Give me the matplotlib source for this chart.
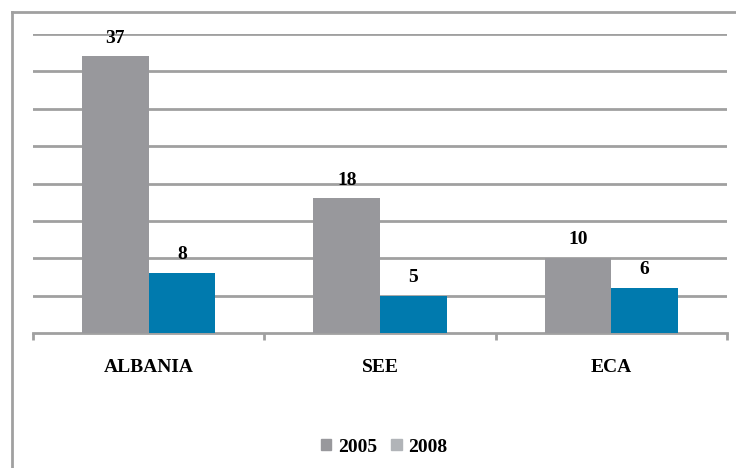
import matplotlib
matplotlib.use("Agg")
import matplotlib.pyplot as plt
from matplotlib.patches import Patch
from matplotlib.lines import Line2D

categories = ["ALBANIA", "SEE", "ECA"]
series_names = ["2005", "2008"]
values_2005 = [37, 18, 10]
values_2008 = [8, 5, 6]

c2005 = "#98989c"
c2008 = "#007aae"
c2008_legend = "#b1b4b8"
grid_c = "#a0a0a0"

plt.rcParams['font.family'] = ['Liberation Serif', 'DejaVu Serif']

fig = plt.figure(figsize=(7.36, 4.68), dpi=100)
ax = fig.add_axes([33/736, 1-333/468, (727-33)/736, (333-34)/468])

x = list(range(len(categories)))
w = 0.288
b1 = ax.bar([i - w/2 for i in x], values_2005, width=w, color=c2005, zorder=3)
b2 = ax.bar([i + w/2 for i in x], values_2008, width=w, color=c2008, zorder=3)

for bars, vals in ((b1, values_2005), (b2, values_2008)):
    for rect, v in zip(bars, vals):
        ax.annotate(str(v), (rect.get_x() + rect.get_width()/2, v),
                    xytext=(0, 10), textcoords='offset points',
                    ha='center', va='baseline', fontsize=14, fontweight='bold', zorder=4)

ax.set_xlim(-0.5, 2.5)
ax.set_ylim(0, 40)
ax.set_yticks(range(5, 41, 5))
ax.yaxis.grid(True, color=grid_c, linewidth=2, zorder=0)
ax.tick_params(axis='y', length=0, labelleft=False)
for s in ['top', 'right', 'left']:
    ax.spines[s].set_visible(False)
ax.spines['bottom'].set_color(grid_c)
ax.spines['bottom'].set_linewidth(2)
ax.set_xticks(x)
ax.set_xticklabels(categories, fontsize=14, fontweight='bold')
ax.tick_params(axis='x', which='major', length=0, pad=19)
ax.set_xticks([-0.5, 0.5, 1.5, 2.5], minor=True)
ax.tick_params(axis='x', which='minor', length=5, width=2, color=grid_c, direction='out')

# outer frame (left and top visible)
fig.add_artist(Line2D([12/736, 12/736], [0, 1-12/468], color=grid_c, linewidth=2, transform=fig.transFigure))
fig.add_artist(Line2D([12/736, 1], [1-12/468, 1-12/468], color=grid_c, linewidth=2, transform=fig.transFigure))

handles = [Patch(color=c2005), Patch(color=c2008_legend)]
fig.legend(handles, series_names, loc='center', bbox_to_anchor=(384/736, 1-447/468), ncol=2,
           frameon=False, prop={'weight': 'bold', 'size': 14},
           handlelength=0.55, handleheight=0.55, handletextpad=0.35, columnspacing=0.7)

fig.savefig("out.png", dpi=100)
